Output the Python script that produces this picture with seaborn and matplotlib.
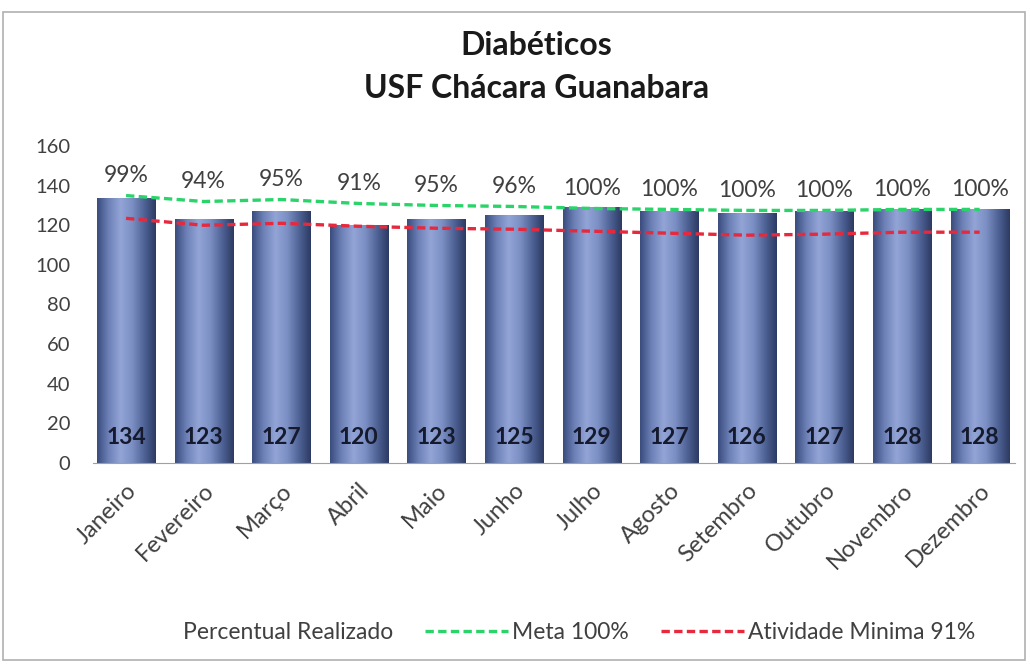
import numpy as np
import pandas as pd
import matplotlib
matplotlib.use("Agg")
import matplotlib.pyplot as plt
import seaborn as sns
from matplotlib.colors import LinearSegmentedColormap
from matplotlib.lines import Line2D
from matplotlib.patches import Rectangle

# dados do grafico
meses = ['Janeiro', 'Fevereiro', 'Março', 'Abril', 'Maio', 'Junho',
         'Julho', 'Agosto', 'Setembro', 'Outubro', 'Novembro', 'Dezembro']
realizado = [134, 123, 127, 120, 123, 125, 129, 127, 126, 127, 128, 128]
percentual = ['99%', '94%', '95%', '91%', '95%', '96%',
              '100%', '100%', '100%', '100%', '100%', '100%']
meta = [135, 132, 133, 131, 130, 129.5, 128.5, 128, 127.5, 127.5, 128, 128]
minima = [123.5, 120, 121, 119.5, 118.5, 118, 117, 116, 115, 115.5, 116.5, 116.5]

df = pd.DataFrame({'Mes': meses, 'Realizado': realizado,
                   'Meta': meta, 'Minima': minima})
df['idx'] = np.arange(len(meses))

sns.set_style('white')
plt.rcParams['font.family'] = ['Lato', 'DejaVu Sans']

fig = plt.figure(figsize=(10.3, 6.64), dpi=100)
ax = fig.add_axes([0.09, 0.303, 0.895, 0.477])

sns.barplot(data=df, x='idx', y='Realizado', color='#4a5f96', width=0.75,
            ax=ax, zorder=2)

# gradiente tipo cilindro nas barras
cmap = LinearSegmentedColormap.from_list(
    'cil', ['#3a4c7e', '#6e82b8', '#93a5d6', '#7b8fc4', '#4f6396', '#2c3a62'])
grad = np.linspace(0, 1, 256).reshape(1, -1)
for p in list(ax.patches):
    x0, y0 = p.get_x(), p.get_y()
    w, h = p.get_width(), p.get_height()
    p.set_facecolor('none')
    p.set_edgecolor('none')
    im = ax.imshow(grad, cmap=cmap, aspect='auto', extent=[x0, x0 + w, y0, y0 + h],
                   zorder=2, interpolation='bicubic')
    im.set_clip_path(p)

sns.lineplot(data=df, x='idx', y='Meta', color='#2bd46a', lw=2.4, ax=ax, zorder=4)
sns.lineplot(data=df, x='idx', y='Minima', color='#e8283c', lw=2.4, ax=ax, zorder=4)
for ln in ax.lines:
    ln.set_linestyle((0, (2.5, 1.3)))

for i in range(len(meses)):
    ax.text(i, 13, str(realizado[i]), ha='center', va='center', fontsize=16.5,
            fontweight='bold', color='#151a2e', zorder=5)
    ax.text(i, meta[i] + 10, percentual[i], ha='center', va='center',
            fontsize=16.5, color='#404040', zorder=5)

ax.set_xlim(-0.43, 11.45)
ax.set_ylim(0, 160)
ax.set_yticks(range(0, 161, 20))
ax.set_xticks(range(len(meses)))
ax.set_xticklabels(meses, rotation=45, ha='right', rotation_mode='anchor')
ax.tick_params(axis='y', labelsize=14.5, colors='#404040', length=0, pad=16)
ax.tick_params(axis='x', labelsize=17, colors='#404040', length=0, pad=12)
ax.set_xlabel('')
ax.set_ylabel('')
for s in ['top', 'right', 'left']:
    ax.spines[s].set_visible(False)
ax.spines['bottom'].set_color('#a0a0a0')

fig.text(0.521, 0.932, 'Diabéticos', ha='center', va='center',
         fontsize=23, fontweight='bold', color='#1a1a1a')
fig.text(0.521, 0.867, 'USF Chácara Guanabara', ha='center', va='center',
         fontsize=23, fontweight='bold', color='#1a1a1a')

handles = [Line2D([], [], color='none'),
           Line2D([], [], color='#2bd46a', lw=2.4, ls=(0, (2.5, 1.3))),
           Line2D([], [], color='#e8283c', lw=2.4, ls=(0, (2.5, 1.3)))]
fig.legend(handles, ['Percentual Realizado', 'Meta 100%', 'Atividade Minima 91%'],
           loc='center', bbox_to_anchor=(0.52, 0.047), ncol=3, frameon=False,
           fontsize=16.5, handlelength=3.6, handletextpad=0.2, columnspacing=1.4,
           labelcolor='#404040')

fig.add_artist(Rectangle((0.003, 0.006), 0.992, 0.976, transform=fig.transFigure,
                         fill=False, edgecolor='#b0b0b0', lw=1.2))

plt.savefig('out.png', dpi=100)
plt.close()
